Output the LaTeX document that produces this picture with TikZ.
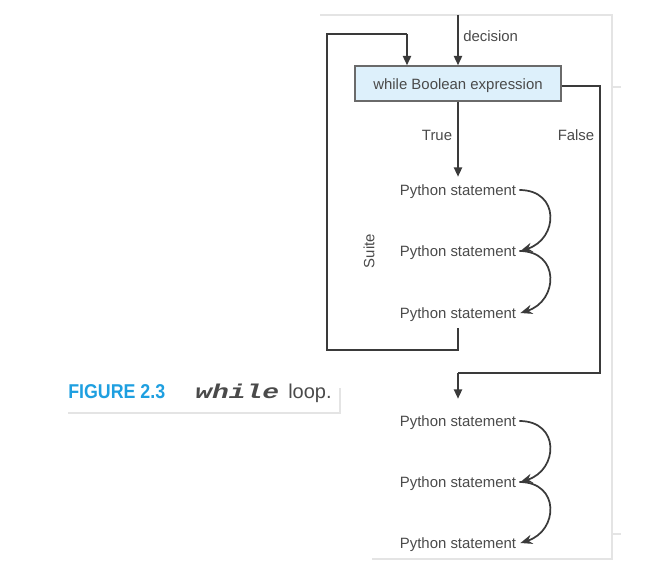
\documentclass[tikz,border=0pt]{standalone}
\usepackage{fontspec}
\setmainfont{Liberation Sans}
\newfontfamily\capmono{Liberation Mono}
\usetikzlibrary{arrows.meta,calc}
\definecolor{lineC}{HTML}{3A3A3A}
\definecolor{textC}{HTML}{4A4A4A}
\definecolor{boxfill}{HTML}{DDF0FB}
\definecolor{boxline}{HTML}{6A6A6A}
\definecolor{faint}{HTML}{E4E4E4}
\definecolor{capblue}{HTML}{1E9FE0}
\tikzset{
  lbl/.style={font=\fontsize{11.2}{13}\selectfont, text=textC, inner sep=0pt},
  stmt/.style={lbl, anchor=center},
  conn/.style={draw=lineC, line width=1.5pt},
  tip/.style={-{Triangle[length=7pt,width=6pt]}},
  curvy/.style={draw=lineC, line width=1.3pt, -{Stealth[length=9pt,width=7pt]}},
  faintline/.style={draw=faint, line width=0.8pt},
}
\begin{document}
\begin{tikzpicture}[x=0.75pt,y=-0.75pt]
\useasboundingbox (0,0) rectangle (666,577);
% faint page borders
\draw[faintline] (320,15) -- (612,15) -- (612,559) -- (372,559);
\draw[faintline] (612,87) -- (621,87);
\draw[faintline] (612,534) -- (621,534);
\draw[faintline] (68,413) -- (340,413) -- (340,388);
% box
\node[draw=boxline, fill=boxfill, line width=1pt, minimum width=206*0.75pt, minimum height=35*0.75pt, inner sep=0pt, font=\fontsize{11.2}{13}\selectfont, text=textC] (box) at (458,83.5) {\raisebox{-1.5pt}[\height][\depth]{while Boolean expression}};
% statements
\node[stmt] (s1) at (458,192) {Python statement};
\node[stmt] (s2) at (458,253) {Python statement};
\node[stmt] (s3) at (458,315) {Python statement};
\node[stmt] (s4) at (458,423) {Python statement};
\node[stmt] (s5) at (458,484) {Python statement};
\node[stmt] (s6) at (458,545) {Python statement};
% labels
\node[lbl, anchor=west] (dec) at (463,36) {decision};
\node[lbl] (true) at (437,135) {True};
\node[lbl] (false) at (576,135) {False};
\node[lbl, rotate=90] (suite) at (369,251) {Suite};
% coordinates
\coordinate (top) at (458,15);
\coordinate (lb1) at (458,350);
\coordinate (lb2) at (327,350);
\coordinate (lb3) at (327,34);
\coordinate (lb4) at (407,34);
\coordinate (f1) at (600,86);
\coordinate (f2) at (600,373);
\coordinate (f3) at (458,373);
% connectors
\draw[conn, tip] (top) -- (box.north);
\draw[conn, tip] (box.south) -- ($(s1.north)+(0,-8)$);
\draw[conn] ($(s3.south)+(0,6)$) -- (lb1) -- (lb2) -- (lb3) -- (lb4);
\draw[conn, tip] (lb4) -- (lb4 |- box.north);
\draw[conn] (box.east |- f1) -- (f1) -- (f2) -- (f3);
\draw[conn, tip] (f3) -- ($(s4.north)+(0,-17)$);
% curved arrows
\foreach \a/\b in {s1/s2, s2/s3, s4/s5, s5/s6}{
  \draw[curvy] ($(\a.east)+(3,-2)$) .. controls ($(\a.east)+(44,-2)$) and ($(\b.east)+(42,-14)$) .. ($(\b.east)+(4,-2)$);
}
% caption
\node[inner sep=0pt, anchor=base west, text=capblue, font=\fontsize{15}{17}\bfseries] (figno) at (68,398) {\scalebox{0.89}[1]{FIGURE 2.3}};
\node[inner sep=0pt, anchor=base west, text=textC, font=\capmono\fontsize{15}{17}\bfseries\itshape] (kw) at (195,398) {\scalebox{1.4}[1]{while}};
\node[inner sep=0pt, anchor=base west, text=textC, font=\fontsize{15}{17}\selectfont] (lp) at (288,398) {loop.};
\end{tikzpicture}
\end{document}
